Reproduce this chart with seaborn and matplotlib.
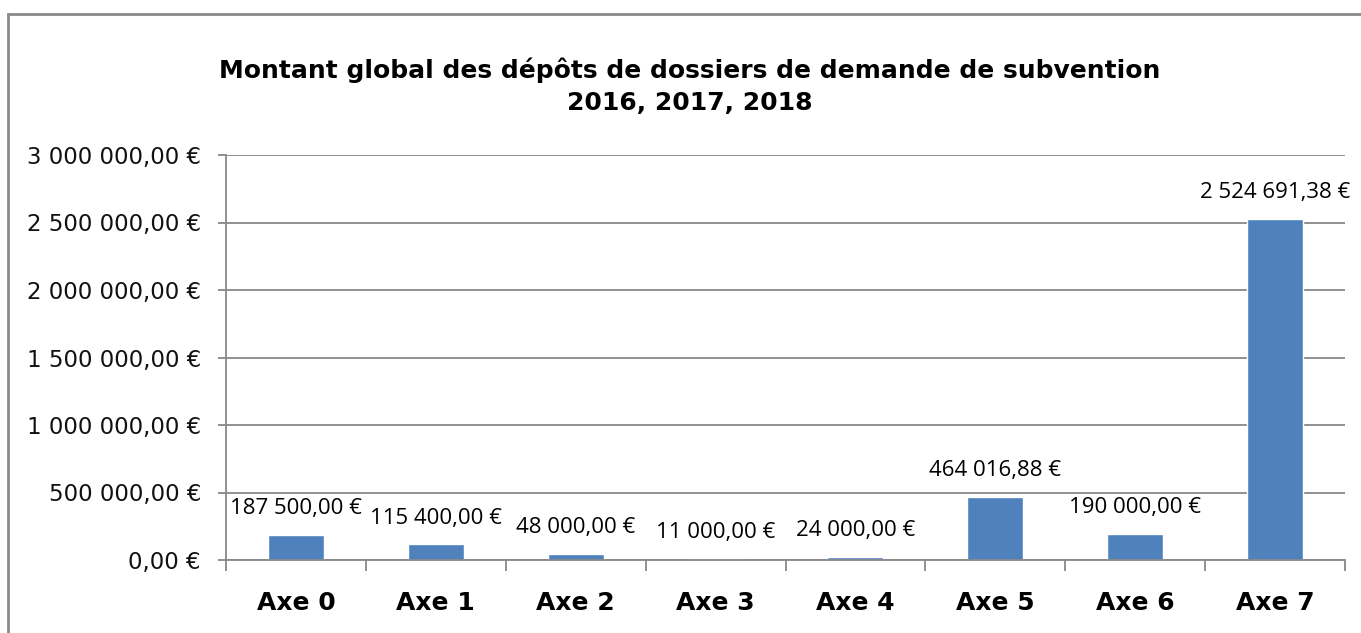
import matplotlib
matplotlib.use("Agg")
import matplotlib.pyplot as plt
import seaborn as sns
import pandas as pd
from matplotlib.patches import Rectangle
from matplotlib.ticker import FuncFormatter, FixedLocator

categories = ["Axe 0", "Axe 1", "Axe 2", "Axe 3", "Axe 4", "Axe 5", "Axe 6", "Axe 7"]
values = [187500.00, 115400.00, 48000.00, 11000.00, 24000.00, 464016.88, 190000.00, 2524691.38]
title_lines = ["Montant global des dépôts de dossiers de demande de subvention", "2016, 2017, 2018"]

sns.set_theme(style="white")
plt.rcParams['font.family'] = ['DejaVu Sans']

def eur(v):
    s = f"{v:,.2f}"
    s = s.replace(",", " ").replace(".", ",")
    return s + " €"

df = pd.DataFrame({"cat": categories, "val": values})

W, H = 1361, 633
fig = plt.figure(figsize=(W / 100, H / 100), dpi=100)
ax = fig.add_axes([226 / W, 1 - 560 / H, (1345 - 226) / W, (560 - 155) / H])

sns.barplot(data=df, x="cat", y="val", color="#4F81BD", width=0.4, ax=ax, saturation=1)

grid_c = "#888888"
ax.set_ylim(0, 3000000)
ax.set_xlim(-0.5, len(categories) - 0.5)
ax.set_yticks([0, 500000, 1000000, 1500000, 2000000, 2500000, 3000000])
ax.yaxis.set_major_formatter(FuncFormatter(lambda v, p: eur(v)))
ax.yaxis.grid(True, color=grid_c, linewidth=1.3)
ax.set_axisbelow(True)
for s in ["top", "right"]:
    ax.spines[s].set_visible(False)
for s in ["left", "bottom"]:
    ax.spines[s].set_color(grid_c)
    ax.spines[s].set_linewidth(1.3)

ax.tick_params(axis="y", which="major", length=6, width=1.3, color=grid_c, left=True,
               labelsize=16.5, pad=12, labelcolor="#111111")
ax.xaxis.set_minor_locator(FixedLocator([i - 0.5 for i in range(len(categories) + 1)]))
ax.tick_params(axis="x", which="minor", length=8, width=1.3, color=grid_c, bottom=True)
ax.tick_params(axis="x", which="major", length=0, labelsize=18, pad=22, labelcolor="#000000")
for lbl in ax.get_xticklabels():
    lbl.set_fontweight("bold")
ax.set_xlabel("")
ax.set_ylabel("")

for i, v in enumerate(values):
    ax.annotate(eur(v), (i, v), xytext=(0, 19), textcoords="offset points",
                ha="center", va="center", fontsize=16, family="Open Sans", color="#000000")

fig.text(690 / W, 1 - 70 / H, title_lines[0], ha="center", va="center",
         fontsize=18, fontweight="bold", color="#000000")
fig.text(690 / W, 1 - 103 / H, title_lines[1], ha="center", va="center",
         fontsize=18, fontweight="bold", color="#000000")

fig.patches.append(Rectangle((8 / W, -0.1), 1.2, 1 - 14 / H + 0.1, transform=fig.transFigure,
                             fill=False, edgecolor="#8a8a8a", linewidth=2))

fig.savefig("out.png", dpi=100)
